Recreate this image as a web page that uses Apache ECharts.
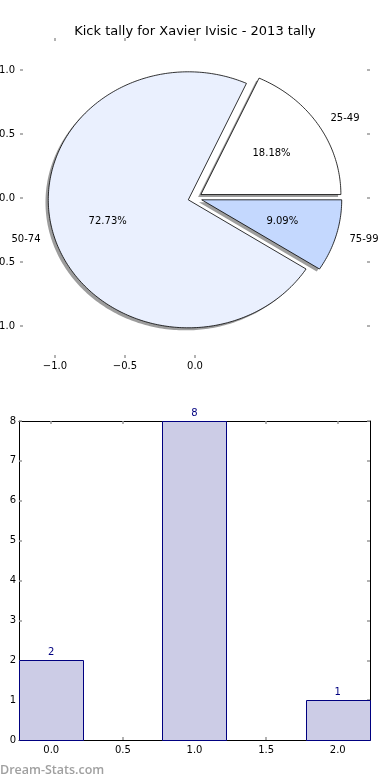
<!DOCTYPE html>
<html>
<head>
<meta charset="utf-8">
<script src="https://cdn.jsdelivr.net/npm/echarts@6/dist/echarts.min.js"></script>
<style>
html,body{margin:0;padding:0;background:#fff;}
#chart{width:390px;height:780px;}
</style>
</head>
<body>
<div id="chart"></div>
<script>
// ---- data ----
const chartTitle = 'Kick tally for Xavier Ivisic - 2013 tally';
const sliceLabels = ['25-49', '50-74', '75-99'];
const sliceValues = [2, 8, 1];
const pieAxisTicks = [-1, -0.5, 0, 0.5, 1];
const pieXTicks = [-1, -0.5, 0];
const barPositions = [0, 1, 2];
const barValues = [2, 8, 1];
const barXTicks = [0, 0.5, 1, 1.5, 2];
const barYTicks = [0, 1, 2, 3, 4, 5, 6, 7, 8];
const watermark = 'Dream-Stats.com';

// ---- styles ----
const FONT = 'DejaVu Sans';
const sliceColors = ['#FFFFFF', '#EAF0FE', '#C4D8FE'];
const EXPLODE = 0.05;
const BAR_W = 0.45;
const TICK_COLOR = '#999999';

const fmt = v => (v < 0 ? '\u2212' : '') + Math.abs(v).toFixed(1);
const total = sliceValues.reduce((a, b) => a + b, 0);

function sliceGeom(i) {
  let cum = 0;
  for (let k = 0; k < i; k++) cum += sliceValues[k];
  const t1 = cum / total * 2 * Math.PI;
  const t2 = (cum + sliceValues[i]) / total * 2 * Math.PI;
  const tm = (t1 + t2) / 2;
  const cx = EXPLODE * Math.cos(tm), cy = EXPLODE * Math.sin(tm);
  return { t1, t2, tm, cx, cy };
}
function slicePoints(api, i, ox, oy) {
  const g = sliceGeom(i);
  const pts = [api.coord([g.cx + ox, g.cy + oy])];
  const n = Math.max(4, Math.ceil((g.t2 - g.t1) / (Math.PI / 180)));
  for (let s = 0; s <= n; s++) {
    const t = g.t1 + (g.t2 - g.t1) * s / n;
    pts.push(api.coord([g.cx + ox + Math.cos(t), g.cy + oy + Math.sin(t)]));
  }
  return pts;
}

const chart = echarts.init(document.getElementById('chart'), null, { renderer: 'canvas' });

const tickStyle = { show: true, inside: true, length: 3, lineStyle: { color: TICK_COLOR, width: 1.5 } };
const labelStyle = { color: '#000', fontFamily: FONT, fontSize: 10 };
const hiddenLine = { show: false, onZero: false };
const frameLine = { show: true, onZero: false, lineStyle: { color: '#000', width: 1 } };

const option = {
  animation: false,
  backgroundColor: '#fff',
  title: {
    text: chartTitle, left: 'center', top: 20,
    textStyle: { fontFamily: FONT, fontSize: 13, fontWeight: 'normal', color: '#000' }
  },
  graphic: [{
    type: 'text', left: 0, top: 764,
    style: { text: watermark, fill: '#a0a0a0', font: '600 12.5px "Open Sans"' }
  }],
  grid: [
    { left: 20, right: 20, top: 38, height: 320, containLabel: false, outerBoundsMode: 'none' },
    { left: 19, right: 20, top: 421, bottom: 40, containLabel: false, outerBoundsMode: 'none' }
  ],
  xAxis: [
    { gridIndex: 0, type: 'value', min: -1.25, max: 1.25, position: 'bottom',
      splitLine: { show: false }, axisLine: hiddenLine,
      axisTick: Object.assign({ customValues: pieXTicks }, tickStyle),
      axisLabel: Object.assign({ customValues: pieXTicks, formatter: fmt, margin: 3 }, labelStyle) },
    { gridIndex: 0, type: 'value', min: -1.25, max: 1.25, position: 'top',
      splitLine: { show: false }, axisLine: hiddenLine,
      axisTick: Object.assign({ customValues: pieXTicks }, tickStyle),
      axisLabel: { show: false } },
    { gridIndex: 1, type: 'value', min: -BAR_W / 2, max: 2 + BAR_W / 2, position: 'bottom',
      splitLine: { show: false }, axisLine: frameLine,
      axisTick: Object.assign({ customValues: barXTicks }, tickStyle),
      axisLabel: Object.assign({ customValues: barXTicks, formatter: fmt, margin: 5 }, labelStyle) },
    { gridIndex: 1, type: 'value', min: -BAR_W / 2, max: 2 + BAR_W / 2, position: 'top',
      splitLine: { show: false }, axisLine: frameLine,
      axisTick: Object.assign({ customValues: barXTicks }, tickStyle),
      axisLabel: { show: false } }
  ],
  yAxis: [
    { gridIndex: 0, type: 'value', min: -1.25, max: 1.25, position: 'left',
      splitLine: { show: false }, axisLine: hiddenLine,
      axisTick: Object.assign({ customValues: pieAxisTicks }, tickStyle),
      axisLabel: Object.assign({ customValues: pieAxisTicks, formatter: fmt, margin: 5 }, labelStyle) },
    { gridIndex: 0, type: 'value', min: -1.25, max: 1.25, position: 'right',
      splitLine: { show: false }, axisLine: hiddenLine,
      axisTick: Object.assign({ customValues: pieAxisTicks }, tickStyle),
      axisLabel: { show: false } },
    { gridIndex: 1, type: 'value', min: 0, max: 8, interval: 1, position: 'left',
      splitLine: { show: false }, axisLine: frameLine,
      axisTick: Object.assign({ customValues: barYTicks }, tickStyle),
      axisLabel: Object.assign({ customValues: barYTicks, margin: 3 }, labelStyle) },
    { gridIndex: 1, type: 'value', min: 0, max: 8, interval: 1, position: 'right',
      splitLine: { show: false }, axisLine: frameLine,
      axisTick: Object.assign({ customValues: barYTicks }, tickStyle),
      axisLabel: { show: false } }
  ],
  series: [
    { // shadows
      type: 'custom', xAxisIndex: 0, yAxisIndex: 0, clip: false, silent: true,
      data: sliceValues.map((v, i) => [i, v]),
      renderItem: (params, api) => ({
        type: 'polygon',
        shape: { points: slicePoints(api, params.dataIndex, -0.02, -0.02) },
        style: { fill: 'rgba(60,60,60,0.5)', stroke: null }
      })
    },
    { // wedges + labels
      type: 'custom', xAxisIndex: 0, yAxisIndex: 0, clip: false, silent: true,
      data: sliceValues.map((v, i) => [i, v]),
      renderItem: (params, api) => {
        const i = params.dataIndex;
        const g = sliceGeom(i);
        const lp = api.coord([g.cx + 1.1 * Math.cos(g.tm), g.cy + 1.1 * Math.sin(g.tm)]);
        const pp = api.coord([g.cx + 0.6 * Math.cos(g.tm), g.cy + 0.6 * Math.sin(g.tm)]);
        const pct = (sliceValues[i] / total * 100).toFixed(2) + '%';
        return {
          type: 'group',
          children: [
            { type: 'polygon', shape: { points: slicePoints(api, i, 0, 0) },
              style: { fill: sliceColors[i], stroke: '#000', lineWidth: 0.8, lineJoin: 'miter' } },
            { type: 'text', x: lp[0], y: lp[1],
              style: { text: sliceLabels[i], fill: '#000', font: '10px "' + FONT + '"',
                       textAlign: Math.cos(g.tm) > 0 ? 'left' : 'right', textVerticalAlign: 'middle' } },
            { type: 'text', x: pp[0], y: pp[1],
              style: { text: pct, fill: '#000', font: '10px "' + FONT + '"',
                       textAlign: 'center', textVerticalAlign: 'middle' } }
          ]
        };
      }
    },
    { // bars
      type: 'custom', xAxisIndex: 2, yAxisIndex: 2, silent: true, clip: false,
      data: barPositions.map((x, i) => [x, barValues[i]]),
      renderItem: (params, api) => {
        const x = api.value(0), v = api.value(1);
        const p1 = api.coord([x - BAR_W / 2, v]);
        const p2 = api.coord([x + BAR_W / 2, 0]);
        const top = api.coord([x, v]);
        return {
          type: 'group',
          children: [
            { type: 'rect', shape: { x: Math.round(p1[0]) + 0.5, y: Math.round(p1[1]) + 0.5,
                                     width: Math.round(p2[0] - p1[0]), height: Math.round(p2[1] - p1[1]) },
              style: { fill: '#CCCCE6', stroke: '#000080', lineWidth: 1 } },
            { type: 'text', x: top[0], y: top[1] - 3,
              style: { text: String(v), fill: '#000080', font: '10px "' + FONT + '"',
                       textAlign: 'center', textVerticalAlign: 'bottom' } }
          ]
        };
      }
    }
  ]
};
chart.setOption(option);
</script>
</body>
</html>
